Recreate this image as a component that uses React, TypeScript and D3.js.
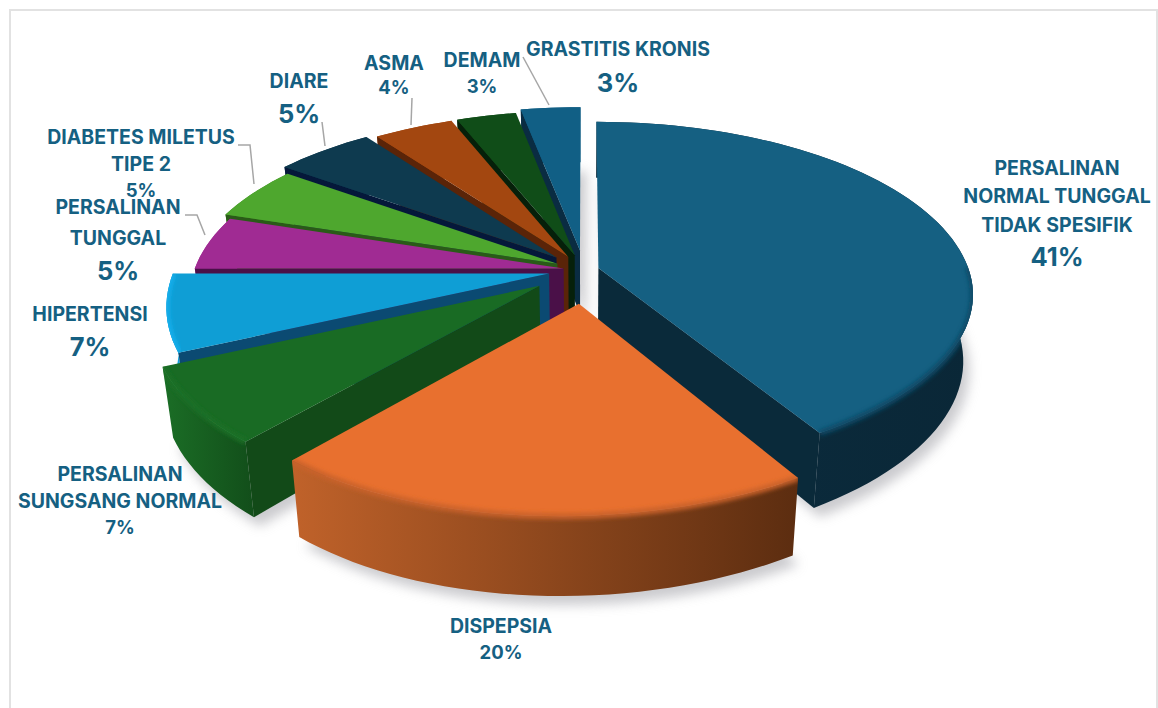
import React from "react";
import * as d3 from "d3";

const W = 1158, H = 708;

const categories = [
  ["PERSALINAN", "NORMAL TUNGGAL", "TIDAK SPESIFIK"],
  ["DISPEPSIA"],
  ["PERSALINAN", "SUNGSANG NORMAL"],
  ["HIPERTENSI"],
  ["PERSALINAN", "TUNGGAL"],
  ["DIABETES MILETUS", "TIPE 2"],
  ["DIARE"],
  ["ASMA"],
  ["DEMAM"],
  ["GRASTITIS KRONIS"],
];
const values = [41, 20, 7, 7, 5, 5, 5, 4, 3, 3];

const topColors = ["#156082", "#e8702f", "#196b24", "#0f9ed5", "#a02b93", "#4ea72e", "#0e3a4f", "#a34710", "#104d18", "#115f85"];
const sideColors = ["#0a2a3a", "#7a3a15", "#124a18", "#0b4a72", "#4a1048", "#2a5a18", "#05183a", "#5a2408", "#06200a", "#0a2c42"];
const wallFrom = ["#0b2d3f", "#c0622a", "#1b6e26", "#12aaea", "#a02b93", "#3f8a25", "#0e3a4f", "#a34710", "#104d18", "#115f85"];
const wallTo = ["#0a2737", "#5c2d10", "#124e1a", "#0e95cc", "#a02b93", "#3f8a25", "#0e3a4f", "#a34710", "#104d18", "#115f85"];
const rimColors = ["#104a66", "#c9622b", "#1a6f26", "#18b0ee"];
const explosion = [0.04, 0.19, 0.148, 0.095, 0.055, 0.08, 0.105, 0.088, 0.09, 0.116];
const radiusScale = [0.988, 0.975, 1, 1, 0.985, 0.985, 1, 1, 1, 1];
const paintOrder = [9, 8, 7, 6, 5, 4, 3, 2, 0, 1];

const labelLayout = [
  { x: 1057, ys: [175, 203, 232], py: 266, pSize: 25.5, fs: 19.5 },
  { x: 501, ys: [633], py: 659, pSize: 18.5, fs: 19.5 },
  { x: 120, ys: [481, 508], py: 534, pSize: 18.5, fs: 19.5 },
  { x: 90, ys: [321], py: 356, pSize: 25.5, fs: 19.5 },
  { x: 118, ys: [214, 245], py: 280, pSize: 25.5, fs: 19.5 },
  { x: 141, ys: [144, 171], py: 197, pSize: 18.5, fs: 19.5 },
  { x: 299, ys: [88], py: 123, pSize: 25.5, fs: 19.5 },
  { x: 394, ys: [70], py: 94, pSize: 18.5, fs: 19.5 },
  { x: 482, ys: [67], py: 93, pSize: 18.5, fs: 19.5 },
  { x: 618, ys: [56], py: 92, pSize: 25.5, fs: 19.5 },
];

const leaders: [number, number][][] = [
  [[523, 57], [549, 105]],
  [[412, 98], [411, 125]],
  [[322, 122], [325, 146]],
  [[238, 145], [250, 145], [254, 184]],
  [[185, 215], [197, 215], [205, 235]],
];

const cx = 584, cy = 270, Rx = 375, Ry = 172, persp = 0.16, shear = 14, depth = 65;

function project(u: number, v: number, z: number): [number, number] {
  const s = 1 / (1 - persp * v);
  let x = cx + u * Rx * s - shear * Math.max(v, 0) ** 2;
  let y = cy + v * Ry * s;
  if (z) {
    x = cx + (x - cx) * 0.975;
    y += depth * s;
  }
  return [x, y];
}

const line = d3.line<[number, number]>();

const arcs = d3.pie<number>().sort(null).value((d) => d)(values);

const slices = arcs.map((a, i) => {
  const e = explosion[i];
  const r = radiusScale[i];
  const mid = (a.startAngle + a.endAngle) / 2;
  const ox = Math.sin(mid) * e, oy = -Math.cos(mid) * e;
  const n = Math.max(6, Math.ceil(((a.endAngle - a.startAngle) * 180) / Math.PI / 2));
  const thetas = d3.range(n + 1).map((k) => a.startAngle + ((a.endAngle - a.startAngle) * k) / n);
  const pt = (t: number, z: number) => project(ox + r * Math.sin(t), oy - r * Math.cos(t), z);
  const apexT = project(ox, oy, 0), apexB = project(ox, oy, 1);
  const arcT = thetas.map((t) => pt(t, 0));
  const arcB = thetas.map((t) => pt(t, 1));
  const top = line([apexT, ...arcT])! + "Z";
  const bottom = line([apexB, ...arcB])! + "Z";
  const wall = line([...arcT, ...arcB.slice().reverse()])! + "Z";
  const rim = line(thetas.filter((t) => oy - Math.cos(t) > -0.05).map((t) => pt(t, 0)))!;
  const sA = a.startAngle, eA = a.endAngle;
  const startWall = line([apexT, pt(sA, 0), pt(sA, 1), apexB])! + "Z";
  const endWall = line([apexT, pt(eA, 0), pt(eA, 1), apexB])! + "Z";
  const xs = [...arcT, ...arcB].map((p) => p[0]);
  return { i, top, bottom, wall, rim, startWall, endWall, x0: d3.min(xs)!, x1: d3.max(xs)! };
});

const font = "Inter, sans-serif";

export default function App() {
  return (
    <svg width={W} height={H} style={{ position: "absolute", left: 0, top: 0, background: "#fff" }}>
      <defs>
        <filter id="shadow" x="-20%" y="-20%" width="140%" height="140%">
          <feGaussianBlur stdDeviation="6" />
        </filter>
        <filter id="soft" x="-20%" y="-20%" width="140%" height="140%">
          <feGaussianBlur stdDeviation="2" />
        </filter>
        {slices.map((s) => (
          <linearGradient key={s.i} id={`w${s.i}`} gradientUnits="userSpaceOnUse" x1={s.x0} x2={s.x1} y1={0} y2={0}>
            <stop offset="0" stopColor={wallFrom[s.i]} />
            <stop offset="1" stopColor={wallTo[s.i]} />
          </linearGradient>
        ))}
        {slices.map((s) => (
          <clipPath key={s.i} id={`c${s.i}`}>
            <path d={s.top} />
            <path d={s.wall} />
          </clipPath>
        ))}
      </defs>
      <rect x={10} y={10} width={1147} height={720} fill="#fff" stroke="#e2e2e2" strokeWidth={2} />
      <g filter="url(#shadow)" transform="translate(6,9)" opacity={0.6}>
        {slices.map((s) => (
          <path key={s.i} d={s.bottom} fill="#a8a8ae" />
        ))}
      </g>
      {paintOrder.map((i) => {
        const s = slices[i];
        const a = arcs[i];
        const side = a.startAngle > Math.PI ? s.startWall : s.endWall;
        return (
          <g key={i}>
            <path d={s.wall} fill={`url(#w${i})`} />
            {i !== 1 && <path d={side} fill={sideColors[i]} />}
            <path d={s.top} fill={topColors[i]} />
            {i < 4 && (
              <g clipPath={`url(#c${i})`}>
                <path d={s.rim} fill="none" stroke={rimColors[i]} strokeWidth={6} filter="url(#soft)" />
              </g>
            )}
          </g>
        );
      })}
      <g fill="none" stroke="#a6a6a6" strokeWidth={1.5}>
        {leaders.map((l, i) => (
          <path key={i} d={line(l)!} />
        ))}
      </g>
      <g fontFamily={font} fontWeight={700} fill="#156082" textAnchor="middle">
        {categories.map((lines, i) => {
          const l = labelLayout[i];
          return (
            <g key={i}>
              {lines.map((t, k) => (
                <text key={k} x={l.x} y={l.ys[k]} fontSize={l.fs}>{t}</text>
              ))}
              <text x={l.x} y={l.py} fontSize={l.pSize}>{values[i]}%</text>
            </g>
          );
        })}
      </g>
    </svg>
  );
}
